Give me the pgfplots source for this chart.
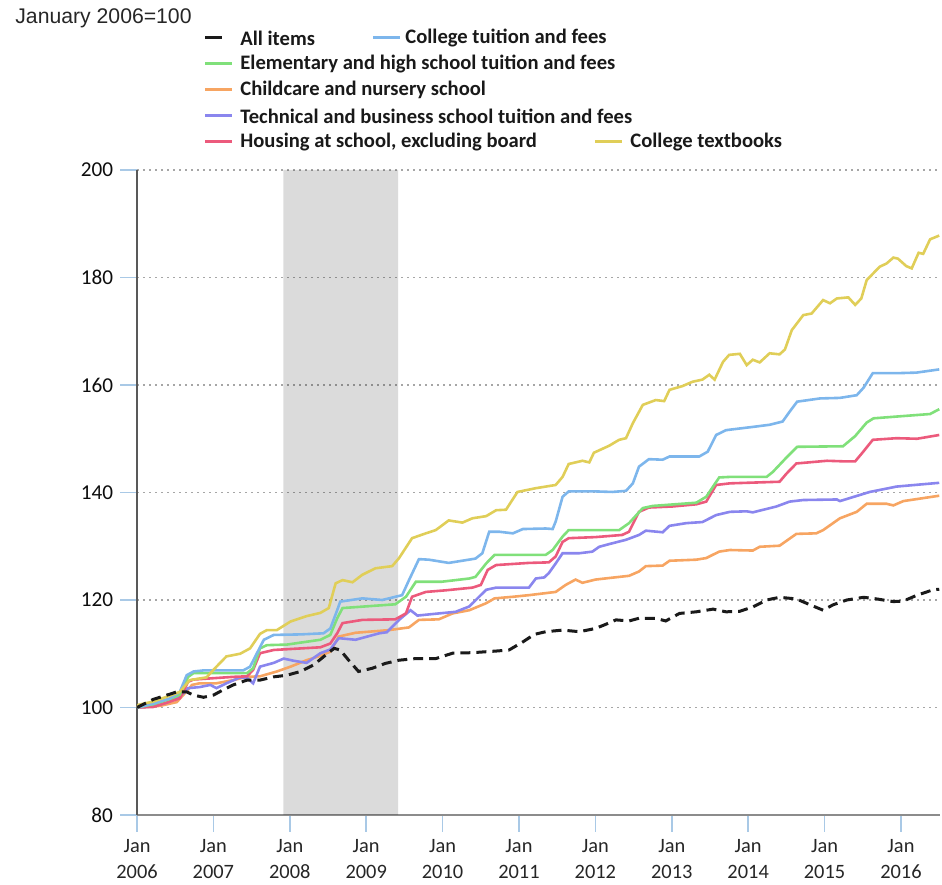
\documentclass[border=0pt]{standalone}
\usepackage{fontspec}
\setmainfont{Liberation Sans}
\newfontfamily\carlito{Carlito}
\usepackage{pgfplots}
\pgfplotsset{compat=1.18}
\definecolor{cBlue}{HTML}{7DB6EC}
\definecolor{cGreen}{HTML}{80E07A}
\definecolor{cOrange}{HTML}{F7A562}
\definecolor{cPurple}{HTML}{8A86EE}
\definecolor{cRed}{HTML}{EC5A7C}
\definecolor{cYellow}{HTML}{E0CE58}
\definecolor{cBlack}{HTML}{1A1A1A}
\definecolor{tickblue}{HTML}{A9C9E6}
\begin{document}
\begin{tikzpicture}
\begin{axis}[
  at={(68.5pt,31.5pt)}, anchor=south west,
  scale only axis, width=401.5pt, height=322.5pt,
  xmin=2006, xmax=2016.51, ymin=80, ymax=200,
  axis x line*=bottom, axis y line*=left,
  x axis line style={color=black!45, line width=1pt},
  y axis line style={color=black!65, line width=0.6pt},
  xtick={2006,2007,...,2016},
  xticklabels={{Jan\\2006},{Jan\\2007},{Jan\\2008},{Jan\\2009},{Jan\\2010},{Jan\\2011},{Jan\\2012},{Jan\\2013},{Jan\\2014},{Jan\\2015},{Jan\\2016}},
  ytick={80,100,...,200},
  tick align=outside, major tick length=8.5pt,
  tick style={color=tickblue, line width=0.8pt},
  xticklabel style={align=center, font=\carlito\fontsize{10.2}{13}\selectfont, text=black!85},
  yticklabel style={font=\carlito\fontsize{10.6}{13}\selectfont, text=black!95},
  /pgf/number format/assume math mode=true,
  ymajorgrids,
  grid style={color=black!35, line width=0.8pt, dash pattern=on 0.8pt off 2.2pt},
]
\addplot[fill=black, fill opacity=0.14, draw=none, forget plot] coordinates {(2007.917,80) (2009.417,80) (2009.417,200) (2007.917,200) (2007.917,80)};

% Childcare and nursery school
\addplot[cOrange, line width=1.3pt] table {
2006.00 100.0
2006.30 100.3
2006.52 101.0
2006.61 102.4
2006.72 104.2
2006.82 104.5
2007.04 104.5
2007.26 105.1
2007.44 105.7
2007.61 105.8
2007.83 106.7
2008.01 107.6
2008.22 108.8
2008.40 109.6
2008.53 110.4
2008.64 113.2
2008.86 113.9
2009.30 114.4
2009.56 114.9
2009.69 116.3
2009.95 116.4
2010.13 117.5
2010.35 118.1
2010.57 119.4
2010.68 120.3
2010.92 120.6
2011.13 120.9
2011.48 121.5
2011.61 122.8
2011.74 123.8
2011.83 123.2
2012.00 123.8
2012.44 124.5
2012.57 125.3
2012.66 126.3
2012.88 126.4
2012.97 127.3
2013.32 127.5
2013.45 127.8
2013.62 129.0
2013.76 129.3
2014.06 129.2
2014.15 129.9
2014.41 130.1
2014.63 132.3
2014.89 132.4
2014.98 133.0
2015.20 135.2
2015.42 136.4
2015.55 137.9
2015.81 137.9
2015.90 137.6
2016.03 138.4
2016.50 139.4
};

% Technical and business school
\addplot[cPurple, line width=1.3pt] table {
2006.00 100.0
2006.21 100.2
2006.39 100.9
2006.56 102.0
2006.67 103.6
2006.82 103.8
2006.96 104.2
2007.04 103.6
2007.17 104.5
2007.35 105.6
2007.44 105.5
2007.52 104.5
2007.61 107.6
2007.79 108.3
2007.92 109.1
2008.05 108.7
2008.22 108.3
2008.40 110.1
2008.53 110.8
2008.64 112.9
2008.86 112.6
2009.17 113.8
2009.27 114.0
2009.43 116.3
2009.58 118.1
2009.67 117.1
2009.95 117.5
2010.17 117.8
2010.35 118.8
2010.57 121.9
2010.70 122.3
2011.13 122.3
2011.22 124.0
2011.33 124.2
2011.39 125.0
2011.48 126.8
2011.57 128.7
2011.79 128.7
2011.96 129.0
2012.05 129.9
2012.18 130.4
2012.40 131.2
2012.57 132.1
2012.66 132.9
2012.88 132.6
2012.97 133.8
2013.19 134.3
2013.40 134.5
2013.58 135.8
2013.76 136.4
2013.98 136.5
2014.06 136.3
2014.37 137.4
2014.54 138.3
2014.72 138.6
2015.16 138.7
2015.20 138.4
2015.59 140.1
2015.94 141.1
2016.50 141.8
};

% Housing at school
\addplot[cRed, line width=1.3pt] table {
2006.00 100.0
2006.21 100.1
2006.39 100.9
2006.56 101.7
2006.67 104.8
2006.74 105.2
2007.26 105.7
2007.44 105.8
2007.52 107.0
2007.61 110.1
2007.79 110.7
2008.40 111.2
2008.53 111.9
2008.62 113.8
2008.69 115.7
2008.95 116.3
2009.38 116.4
2009.52 117.5
2009.60 120.6
2009.78 121.5
2010.04 121.8
2010.39 122.3
2010.50 122.8
2010.59 125.6
2010.70 126.5
2011.13 126.9
2011.39 127.0
2011.48 128.1
2011.57 130.8
2011.65 131.5
2012.00 131.7
2012.35 132.1
2012.44 132.7
2012.57 136.4
2012.70 137.2
2013.01 137.4
2013.32 137.8
2013.45 138.3
2013.58 141.4
2013.76 141.7
2014.41 142.0
2014.50 143.5
2014.63 145.4
2015.03 145.9
2015.24 145.8
2015.40 145.8
2015.50 147.5
2015.63 149.8
2015.94 150.1
2016.21 150.0
2016.50 150.7
};

% Elementary and high school
\addplot[cGreen, line width=1.3pt] table {
2006.00 100.0
2006.21 100.6
2006.43 101.6
2006.56 102.4
2006.67 105.7
2006.74 106.4
2007.44 106.4
2007.52 107.3
2007.61 111.0
2007.70 111.6
2007.96 111.7
2008.40 112.6
2008.53 113.5
2008.62 116.6
2008.69 118.5
2009.38 119.2
2009.52 120.6
2009.65 123.4
2009.99 123.4
2010.35 124.0
2010.43 124.3
2010.57 126.8
2010.68 128.4
2011.13 128.4
2011.35 128.4
2011.44 129.3
2011.57 131.8
2011.65 133.0
2012.31 133.0
2012.44 134.3
2012.62 137.1
2012.75 137.5
2013.32 138.1
2013.45 139.2
2013.62 142.8
2013.76 142.9
2014.24 142.9
2014.32 143.8
2014.50 146.5
2014.64 148.5
2015.24 148.6
2015.40 150.5
2015.55 153.0
2015.64 153.8
2016.38 154.6
2016.50 155.5
};

% College tuition and fees
\addplot[cBlue, line width=1.3pt] table {
2006.00 100.0
2006.21 100.7
2006.43 101.7
2006.56 102.9
2006.65 106.0
2006.74 106.7
2006.87 106.9
2007.39 106.9
2007.48 107.6
2007.57 110.1
2007.66 112.6
2007.79 113.5
2008.14 113.6
2008.44 113.8
2008.53 114.7
2008.62 118.1
2008.66 119.7
2008.95 120.3
2009.21 120.0
2009.47 120.9
2009.56 123.7
2009.69 127.6
2009.82 127.5
2010.08 126.9
2010.43 127.7
2010.52 128.7
2010.61 132.7
2010.74 132.7
2010.92 132.4
2011.05 133.2
2011.35 133.3
2011.44 133.2
2011.48 134.6
2011.57 139.2
2011.65 140.2
2012.00 140.2
2012.22 140.1
2012.40 140.3
2012.49 141.7
2012.57 144.8
2012.70 146.2
2012.88 146.1
2012.97 146.7
2013.36 146.7
2013.47 147.6
2013.58 150.7
2013.71 151.6
2014.06 152.2
2014.28 152.6
2014.45 153.2
2014.54 155.0
2014.64 156.9
2014.94 157.5
2015.20 157.6
2015.42 158.1
2015.51 159.5
2015.63 162.2
2015.95 162.2
2016.20 162.3
2016.50 162.9
};

% College textbooks
\addplot[cYellow, line width=1.3pt] table {
2006.00 100.0
2006.02 100.5
2006.21 101.1
2006.39 102.0
2006.56 102.9
2006.69 105.1
2006.91 105.6
2007.02 107.3
2007.17 109.5
2007.35 110.0
2007.48 111.0
2007.61 113.7
2007.70 114.4
2007.83 114.4
2008.01 116.0
2008.22 117.0
2008.40 117.6
2008.51 118.5
2008.60 123.1
2008.69 123.7
2008.82 123.3
2008.95 124.7
2009.12 125.9
2009.34 126.3
2009.43 127.8
2009.60 131.5
2009.78 132.4
2009.91 133.0
2010.08 134.8
2010.26 134.4
2010.39 135.2
2010.57 135.6
2010.70 136.7
2010.83 136.8
2010.98 140.1
2011.22 140.8
2011.35 141.1
2011.48 141.4
2011.57 142.9
2011.65 145.3
2011.83 145.9
2011.92 145.6
2011.98 147.4
2012.18 148.7
2012.31 149.8
2012.40 150.1
2012.49 152.9
2012.62 156.3
2012.79 157.2
2012.90 157.0
2012.97 159.1
2013.14 159.8
2013.27 160.6
2013.40 161.0
2013.49 161.9
2013.56 161.0
2013.67 164.3
2013.75 165.6
2013.89 165.8
2013.98 163.7
2014.06 164.7
2014.15 164.2
2014.28 165.9
2014.41 165.7
2014.48 166.6
2014.57 170.2
2014.72 173.0
2014.83 173.3
2014.98 175.8
2015.07 175.2
2015.16 176.1
2015.31 176.3
2015.40 174.9
2015.48 176.1
2015.55 179.5
2015.72 182.0
2015.81 182.6
2015.90 183.7
2015.96 183.5
2016.07 182.1
2016.14 181.7
2016.23 184.6
2016.29 184.4
2016.38 187.1
2016.50 187.8
};

% All items
\addplot[cBlack, line width=1.5pt, dash pattern=on 5pt off 3pt] table {
2006.00 100.0
2006.21 101.5
2006.39 102.3
2006.52 102.9
2006.65 102.9
2006.74 102.3
2006.87 101.9
2007.00 102.3
2007.13 103.3
2007.26 104.2
2007.44 105.1
2007.61 105.1
2007.79 105.7
2007.96 106.0
2008.14 106.7
2008.31 107.9
2008.49 110.0
2008.58 111.0
2008.66 110.7
2008.77 108.8
2008.90 106.7
2009.08 107.3
2009.25 108.2
2009.43 108.8
2009.65 109.1
2009.91 109.1
2010.13 110.1
2010.39 110.2
2010.70 110.5
2010.87 110.7
2011.05 112.2
2011.20 113.6
2011.35 114.1
2011.57 114.4
2011.79 114.1
2012.00 114.7
2012.14 115.5
2012.27 116.3
2012.44 116.1
2012.57 116.6
2012.79 116.6
2012.92 116.1
2013.10 117.5
2013.32 117.8
2013.54 118.3
2013.71 117.8
2013.89 117.9
2014.06 118.7
2014.24 120.0
2014.41 120.5
2014.63 120.2
2014.81 119.1
2014.98 118.1
2015.11 119.1
2015.29 120.0
2015.51 120.5
2015.68 120.2
2015.90 119.7
2016.03 119.8
2016.21 120.9
2016.42 121.9
2016.50 122.0
};
\end{axis}

% title
\node[anchor=base west, inner sep=0pt, font=\fontsize{10.6}{12}\selectfont, text=black!85] at (7.5pt,427pt) {January 2006=100};

% legend
\begin{scope}[every node/.style={anchor=west, inner sep=0pt, font=\carlito\bfseries\fontsize{10.3}{12}\selectfont, text=black!90}]
\draw[cBlack, line width=1.5pt] (102.5pt,420pt) -- (111pt,420pt);
\node at (120pt,420pt) {All items};
\draw[cBlue, line width=1.5pt] (186.5pt,420pt) -- (200pt,420pt);
\node at (202.5pt,420pt) {College tuition and fees};
\draw[cGreen, line width=1.5pt] (102.5pt,407pt) -- (116pt,407pt);
\node at (120pt,407pt) {Elementary and high school tuition and fees};
\draw[cOrange, line width=1.5pt] (102.5pt,394pt) -- (116pt,394pt);
\node at (120pt,394pt) {Childcare and nursery school};
\draw[cPurple, line width=1.5pt] (102.5pt,381pt) -- (116pt,381pt);
\node at (120pt,381pt) {Technical and business school tuition and fees};
\draw[cRed, line width=1.5pt] (102.5pt,368pt) -- (116pt,368pt);
\node at (120pt,368pt) {Housing at school, excluding board};
\draw[cYellow, line width=1.5pt] (297.5pt,368pt) -- (311pt,368pt);
\node at (315pt,368pt) {College textbooks};
\end{scope}
\path (0,0) rectangle (471pt,439pt);
\end{tikzpicture}
\end{document}
